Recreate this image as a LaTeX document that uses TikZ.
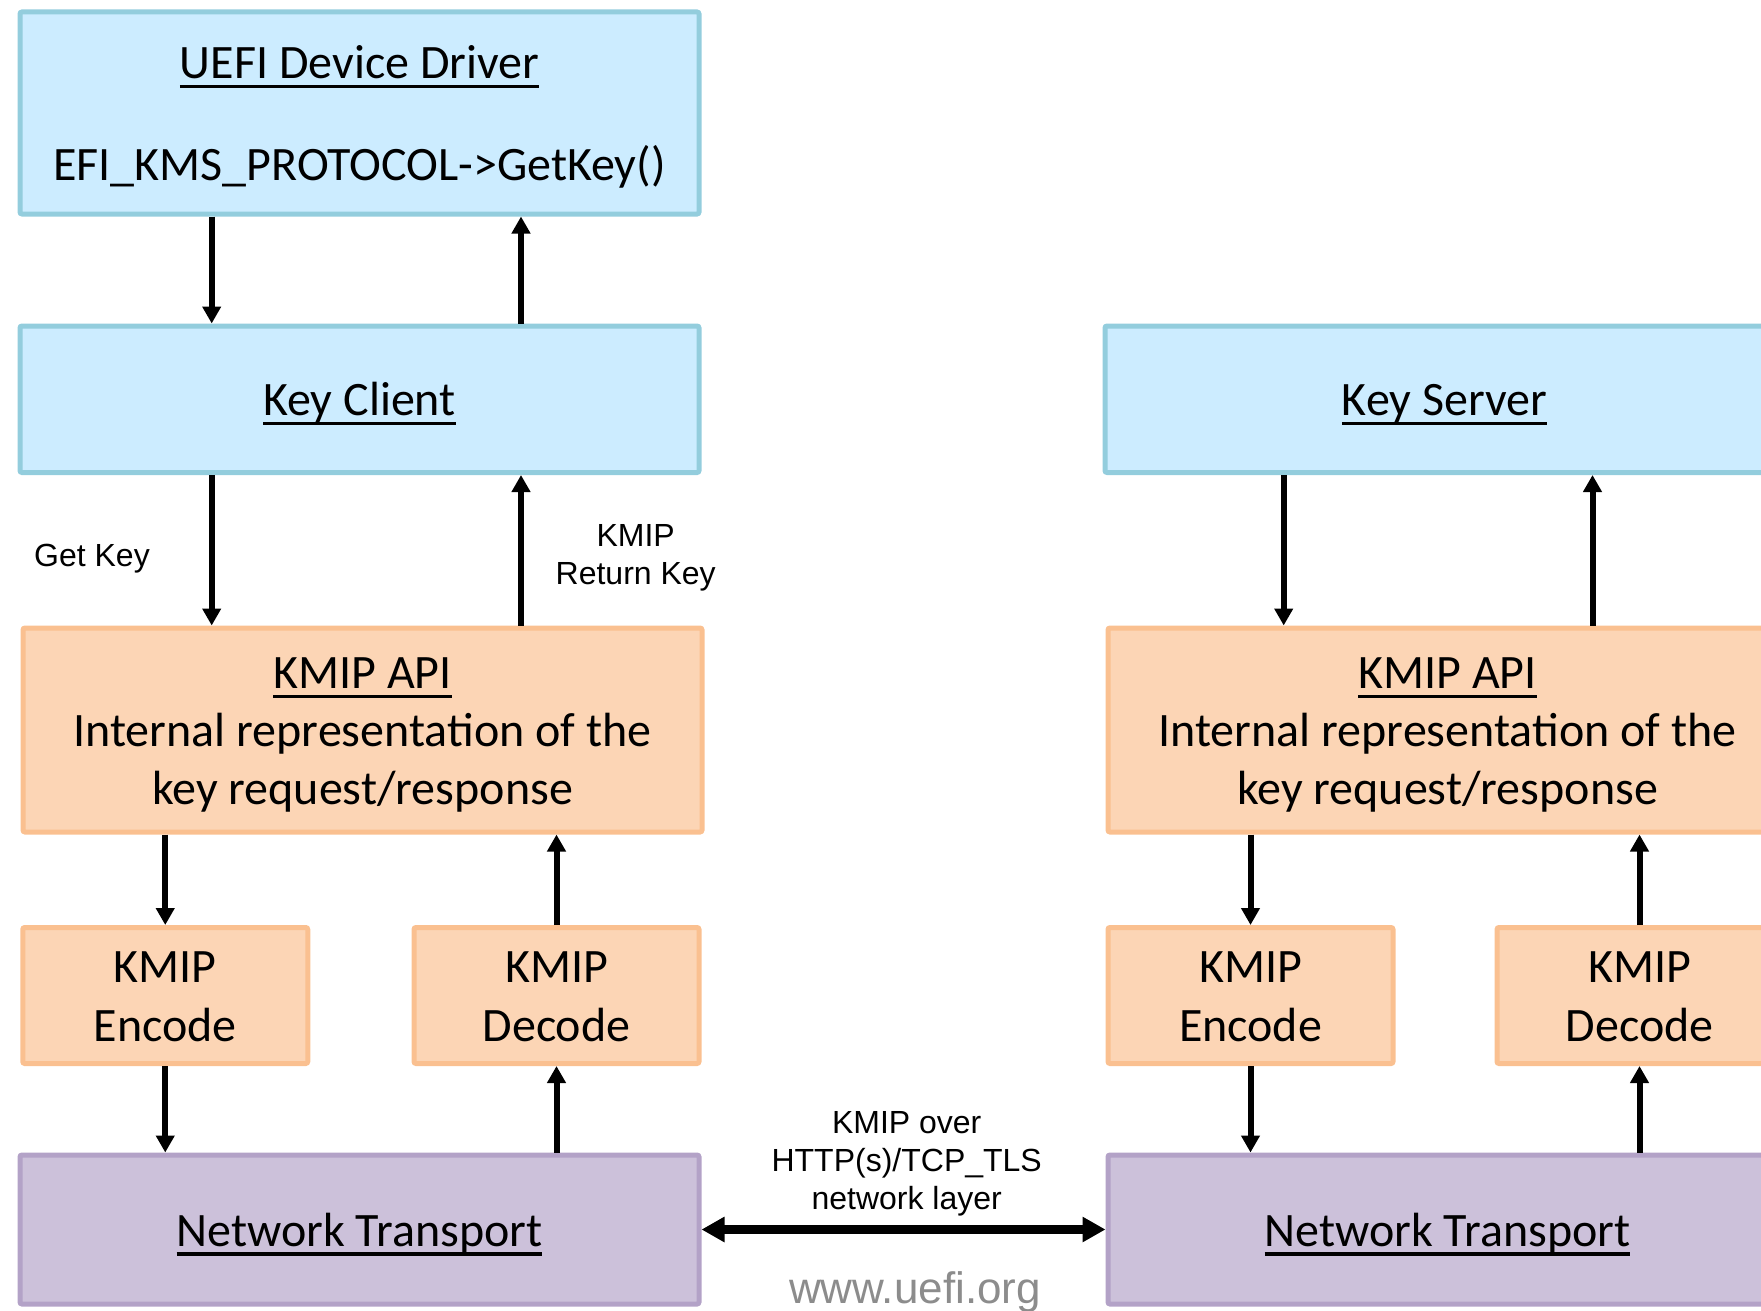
\documentclass[tikz,border=0pt]{standalone}
\usepackage{fontspec}
\setmainfont{Carlito}
\newfontfamily\lblfont{Liberation Sans}
\usepackage{xcolor}
\definecolor{drvblue}{RGB}{204,236,255}
\definecolor{drvline}{RGB}{147,205,221}
\definecolor{kmipfill}{RGB}{252,213,181}
\definecolor{kmipline}{RGB}{250,192,144}
\definecolor{netfill}{RGB}{204,193,218}
\definecolor{netline}{RGB}{179,162,199}
\definecolor{urlgray}{RGB}{140,140,140}
\usepackage{tikz}
\usetikzlibrary{arrows.meta}
\newcommand{\undl}[1]{\setbox0\hbox{#1}\rlap{\rule[-4.8pt]{\wd0}{1.6pt}}\box0}
\newcommand{\topstrut}{\rule{0pt}{22pt}}
\tikzset{
    boxtext/.style  = {align=center, inner sep=0pt, rounded corners=1pt,
                       execute at end node={\rule[-5.5pt]{0pt}{5.5pt}}},
    keybox/.style   = {rectangle, draw=drvline, fill=drvblue, line width=2.5pt,
                       minimum width=339.5pt, boxtext},
    kmipbox/.style  = {rectangle, draw=kmipline, fill=kmipfill, line width=2.5pt,
                       minimum width=339.5pt, boxtext},
    netbox/.style   = {rectangle, draw=netline, fill=netfill, line width=2.5pt,
                       minimum width=339.5pt, minimum height=74.5pt, boxtext},
    arrow/.style    = {-{Triangle[length=8.5pt,width=9pt]}, line width=3pt},
    linkarrow/.style = {{Triangle[length=11.5pt,width=12pt]}-{Triangle[length=11.5pt,width=12pt]},
                       line width=4.2pt},
    lbl/.style      = {font=\lblfont\fontsize{16}{19}\selectfont, align=center,
                       inner sep=0pt}
}

\begin{document}
\begin{tikzpicture}[
    x=0.5pt, y=-0.5pt,
    every node/.append style = {font=\fontsize{24}{29.2}\selectfont},
    codec/.style = {kmipbox, minimum width=142.5pt, minimum height=68pt}
]
\useasboundingbox (0,0) rectangle (1761,1311);
\clip (0,0) rectangle (1761,1311);

% --- Client side ---
\node[keybox, minimum height=101pt] (uefi) at (359.5,113)
   {\topstrut\undl{UEFI Device Driver}\\[22pt]EFI\_KMS\_PROTOCOL->GetKey()};
\node[keybox, minimum height=73.25pt] (client) at (359.5,399.25)
   {\topstrut\undl{Key Client}};
\node[kmipbox, minimum height=102pt] (apiL) at (362.5,730)
   {\topstrut\undl{KMIP API}\\Internal representation of the\\key request/response};
\node[codec] (encL) at (165.25,995.5) {\topstrut KMIP\\Encode};
\node[codec] (decL) at (556.5,995.5)  {\topstrut KMIP\\Decode};
\node[netbox] (netL) at (359.5,1229.5) {\topstrut\undl{Network Transport}};

% --- Server side (runs off the right edge) ---
\node[keybox, minimum height=73.25pt] (server) at (1444.5,399.25)
   {\topstrut\undl{Key Server}};
\node[kmipbox, minimum height=102pt] (apiR) at (1447.5,730)
   {\topstrut\undl{KMIP API}\\Internal representation of the\\key request/response};
\node[codec] (encR) at (1250.5,995.5) {\topstrut KMIP\\Encode};
\node[codec] (decR) at (1639.5,995.5) {\topstrut KMIP\\Decode};
\node[netbox] (netR) at (1447.5,1229.5) {\topstrut\undl{Network Transport}};

% --- Labels ---
\node[lbl] (getkey) at (92,558.5)    {Get Key};
\node[lbl] (retkey) at (635.7,557.5) {KMIP\\Return Key};
\node[lbl] (wire)   at (906.7,1164)  {KMIP over\\HTTP(s)/TCP\_TLS\\network layer};
\node[lbl, anchor=base, text=urlgray, font=\lblfont\fontsize{22}{26}\selectfont]
   (url) at (915,1303) {www.uefi.org};

% --- Driver <-> client <-> API ---
\draw[arrow] ([xshift=-73.9pt]uefi.south) -- ([xshift=-73.9pt]client.north);
\draw[arrow] ([xshift=80.75pt]client.north) -- ([xshift=80.75pt]uefi.south);
\draw[arrow] ([xshift=-73.9pt]client.south) -- ([xshift=-73.9pt]client.south |- apiL.north);
\draw[arrow] ([xshift=80.75pt]client.south |- apiL.north) -- ([xshift=80.75pt]client.south);
\draw[arrow] ([xshift=-80.4pt]server.south) -- ([xshift=-80.4pt]server.south |- apiR.north);
\draw[arrow] ([xshift=74pt]server.south |- apiR.north) -- ([xshift=74pt]server.south);

% --- API <-> codec <-> transport, both sides ---
\foreach \s in {L,R} {
   \draw[arrow] (enc\s.north |- api\s.south) -- (enc\s.north);
   \draw[arrow] (dec\s.north) -- (dec\s.north |- api\s.south);
   \draw[arrow] (enc\s.south) -- (enc\s.south |- net\s.north);
   \draw[arrow] (dec\s.south |- net\s.north) -- (dec\s.south);
}

% --- Wire between the two transports ---
\draw[linkarrow] (netL.east) -- (netR.west);

\end{tikzpicture}
\end{document}
